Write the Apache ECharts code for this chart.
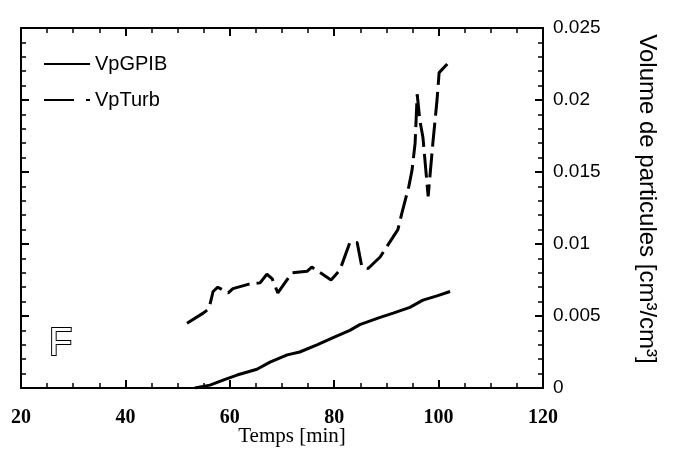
<!DOCTYPE html>
<html>
<head>
<meta charset="utf-8">
<script src="https://cdn.jsdelivr.net/npm/echarts@6/dist/echarts.min.js"></script>
<style>
  html, body { margin: 0; padding: 0; background: #fff; }
  #chart { width: 681px; height: 450px; }
</style>
</head>
<body>
<div id="chart"></div>
<script>
// temps [min], volume [cm3/cm3]
var gpibTemps = [53.3, 56.2, 59.1, 61.4, 65.2, 67.7, 71.0, 73.4, 76.7, 79.8, 83.0, 84.9, 88.8, 91.3, 94.5, 97.0, 99.7, 102.2];
var gpibVol = [0, 0.0002, 0.0006, 0.0009, 0.0013, 0.0018, 0.0023, 0.0025, 0.0030, 0.0035, 0.0040, 0.0044, 0.0049, 0.0052, 0.0056, 0.0061, 0.0064, 0.0067];

var turbTemps = [51.8, 54.9, 56.0, 56.8, 57.7, 59.7, 60.6, 63.5, 65.8, 67.1, 68.1, 69.2, 71.9, 74.8, 75.7, 79.4, 81.1, 83.0, 84.4, 85.3, 86.5, 88.8, 92.2, 93.0, 94.3, 94.9, 95.5, 95.9, 96.4, 97.0, 98.0, 98.9, 99.7, 100.1, 102.2];
var turbVol = [0.0045, 0.0052, 0.0055, 0.0067, 0.0070, 0.0066, 0.0069, 0.0072, 0.0073, 0.0079, 0.0076, 0.0066, 0.0080, 0.0081, 0.0084, 0.0075, 0.0082, 0.0101, 0.0101, 0.0084, 0.0083, 0.0091, 0.0110, 0.0122, 0.0140, 0.0151, 0.0170, 0.0204, 0.0186, 0.0174, 0.0133, 0.0170, 0.0200, 0.0219, 0.0227];

var xTicks = [20, 40, 60, 80, 100, 120];
var yTicks = [0, 0.005, 0.01, 0.015, 0.02, 0.025];

function paires(xs, ys) {
  return xs.map(function (x, i) { return [x, ys[i]]; });
}

var chart = echarts.init(document.getElementById('chart'), null, { renderer: 'canvas' });

var axeX = {
  type: 'value',
  min: xTicks[0],
  max: xTicks[xTicks.length - 1],
  interval: 20,
  axisLine: { onZero: false, lineStyle: { color: '#000', width: 2 } },
  axisTick: { inside: true, length: 8, lineStyle: { color: '#000', width: 2 } },
  minorTick: { show: true, splitNumber: 4, length: 5, lineStyle: { color: '#000', width: 1.5 } },
  splitLine: { show: false }
};
var axeY = {
  type: 'value',
  min: yTicks[0],
  max: yTicks[yTicks.length - 1],
  interval: 0.005,
  axisLine: { show: true, onZero: false, lineStyle: { color: '#000', width: 2 } },
  axisTick: { show: true, inside: true, length: 8, lineStyle: { color: '#000', width: 2 } },
  minorTick: { show: true, splitNumber: 5, length: 5, lineStyle: { color: '#000', width: 1.5 } },
  splitLine: { show: false }
};

var option = {
  backgroundColor: '#fff',
  animation: false,
  grid: { left: 21, right: 138, top: 28, bottom: 62, outerBoundsMode: 'none' },
  legend: {
    orient: 'vertical',
    left: 38,
    top: 49,
    itemWidth: 46,
    itemHeight: 14,
    itemGap: 16,
    itemStyle: { opacity: 0 },
    textStyle: { color: '#000', fontFamily: 'Liberation Sans, Arial', fontSize: 20 },
    data: [
      { name: 'VpGPIB' },
      { name: 'VpTurb', lineStyle: { type: [30, 12] } }
    ]
  },
  xAxis: [
    Object.assign({}, axeX, {
      position: 'bottom',
      name: 'Temps [min]',
      nameLocation: 'middle',
      nameGap: 38,
      nameMoveOverlap: false,
      nameTextStyle: { color: '#000', fontFamily: 'Liberation Serif', fontSize: 21, padding: [0, 0, 0, 20] },
      axisLabel: { color: '#000', fontFamily: 'Liberation Serif', fontWeight: 'bold', fontSize: 20, margin: 20 }
    }),
    Object.assign({}, axeX, { position: 'top', axisLabel: { show: false } })
  ],
  yAxis: [
    Object.assign({}, axeY, {
      position: 'right',
      name: 'Volume de particules [cm³/cm³]',
      nameLocation: 'middle',
      nameRotate: -90,
      nameGap: 92,
      nameMoveOverlap: false,
      nameTextStyle: { color: '#000', fontFamily: 'Liberation Sans, Arial', fontSize: 24, padding: [0, 18, 0, 0] },
      axisLabel: { color: '#000', fontFamily: 'Liberation Sans, Arial', fontSize: 19, margin: 10, padding: [0, 0, 6, 0] }
    }),
    Object.assign({}, axeY, { position: 'left', axisLabel: { show: false } })
  ],
  graphic: [
    {
      type: 'text',
      left: 48,
      top: 325,
      style: {
        text: 'F',
        fontFamily: 'Liberation Sans, Arial',
        fontSize: 38,
        fill: '#fff',
        stroke: '#000',
        lineWidth: 2
      }
    }
  ],
  series: [
    {
      name: 'VpGPIB',
      type: 'line',
      xAxisIndex: 0,
      yAxisIndex: 0,
      showSymbol: false,
      symbol: 'none',
      lineStyle: { color: '#000', width: 3 },
      itemStyle: { color: '#000' },
      data: paires(gpibTemps, gpibVol)
    },
    {
      name: 'VpTurb',
      type: 'line',
      xAxisIndex: 0,
      yAxisIndex: 0,
      showSymbol: false,
      symbol: 'none',
      lineStyle: { color: '#000', width: 3, type: [24, 7] },
      itemStyle: { color: '#000' },
      data: paires(turbTemps, turbVol)
    }
  ]
};

chart.setOption(option);
</script>
</body>
</html>
